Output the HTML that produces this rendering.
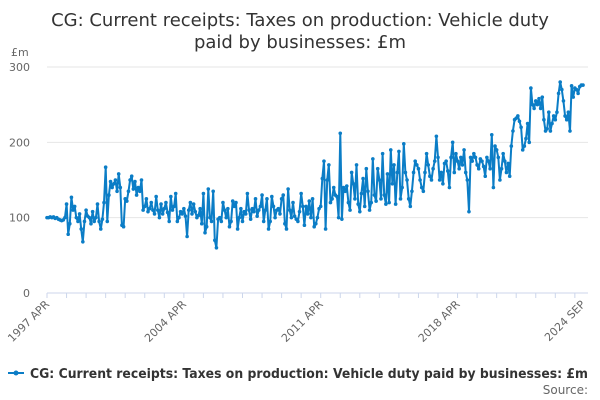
<!DOCTYPE html>
<html><head><meta charset="utf-8"><style>
body{margin:0;background:#fff;font-family:"DejaVu Sans","Liberation Sans",sans-serif}
svg{display:block;font-family:"DejaVu Sans","Liberation Sans",sans-serif}
</style></head><body>
<svg id="c" width="600" height="400">
<text x="300" y="26" text-anchor="middle" font-size="18" fill="#333">CG: Current receipts: Taxes on production: Vehicle duty</text>
<text x="300" y="48" text-anchor="middle" font-size="18" fill="#333">paid by businesses: £m</text>
<text x="11" y="56" font-size="11" fill="#666">£m</text>
<g id="grid"></g><g id="xa"></g><g id="ser"></g>
<g>
<line x1="8" y1="373" x2="24" y2="373" stroke="#0b7dc6" stroke-width="2"/>
<circle cx="16" cy="373" r="2.5" fill="#0b7dc6"/>
<text x="30" y="378" font-size="13" font-weight="bold" fill="#333" textLength="558" lengthAdjust="spacingAndGlyphs">CG: Current receipts: Taxes on production: Vehicle duty paid by businesses: £m</text>
</g>
<text x="588" y="394" text-anchor="end" font-size="12" fill="#666">Source:</text>
</svg>
<script>
const yTicks=[0,100,200,300];
const xLabels=["1997 APR","2004 APR","2011 APR","2018 APR","2024 SEP"];
const xLabelIdx=[0,84,168,252,329];
const values=[
100,100,101,100,101,99,100,98,97,
96,97,100,118,78,92,127,110,115,100,95,105,
85,68,95,110,102,100,92,108,95,100,118,95,
85,98,120,167,95,130,148,140,145,150,135,158,
140,90,88,125,122,135,150,155,138,148,130,140,
135,150,110,115,125,108,112,120,110,105,128,110,
100,118,105,112,120,107,95,128,110,115,132,95,
100,108,105,112,102,75,110,120,105,118,108,100,
103,112,92,132,80,88,138,100,95,135,70,60,
98,100,95,120,110,100,112,88,95,122,115,120,
85,100,112,95,108,105,132,110,98,112,108,125,
102,110,115,130,95,110,125,85,95,128,115,100,
110,112,105,125,130,92,85,138,110,100,120,102,
98,95,108,132,115,90,115,105,122,100,125,88,
92,100,112,115,152,175,85,150,170,120,125,140,
130,128,100,212,98,140,135,142,120,110,160,145,
125,170,118,108,132,152,115,165,135,110,120,178,
130,122,165,150,125,185,130,118,158,120,190,145,
170,118,160,188,125,140,198,160,150,125,115,135,
160,175,170,165,150,140,135,160,185,170,155,150,
165,175,208,180,150,160,145,172,175,162,140,180,
200,160,185,175,165,180,170,190,160,150,108,180,
175,185,180,170,165,178,175,168,155,180,175,165,
210,140,195,190,180,150,165,185,175,160,172,155,
195,215,230,232,235,228,220,190,195,205,225,200,
272,250,245,255,250,258,245,260,230,215,218,240,
215,225,235,230,240,265,280,270,255,235,230,240,
215,275,260,272,270,265,274,276,276];
const NS="http://www.w3.org/2000/svg";
const X0=47,X1=583,Y0=293,Y300=67;
const xs=i=>X0+(X1-X0)*i/(values.length-1);
const ys=v=>Y0-(Y0-Y300)*v/300;
function mk(t,a,p){const e=document.createElementNS(NS,t);for(const k in a)e.setAttribute(k,a[k]);p.appendChild(e);return e;}
const grid=document.getElementById('grid');
yTicks.forEach(v=>{
 const l=mk('line',{x1:X0,x2:588,y1:ys(v),y2:ys(v),stroke:v===0?'#ccd6eb':'#e6e6e6','stroke-width':1},grid);
 
 
 const t=mk('text',{x:30,y:ys(v)+4,'text-anchor':'end','font-size':11,fill:'#666'},grid);
 t.textContent=v;
 
 
});
const xa=document.getElementById('xa');
for(let i=0;i<values.length;i+=12){
 const tk=mk('line',{x1:xs(i),x2:xs(i),y1:Y0,y2:Y0+5,stroke:'#ccd6eb'},xa);
 
 
}
xLabels.forEach((s,k)=>{
 const x=xs(xLabelIdx[k]);
 const t=mk('text',{x:x+3,y:Y0+12,'text-anchor':'end','font-size':11,fill:'#666',transform:`rotate(-45 ${x+3} ${Y0+12})`},xa);
 t.textContent=s;
 
 
});
const ser=document.getElementById('ser');
const p=mk('path',{d:values.map((v,i)=>(i?'L':'M')+xs(i).toFixed(1)+' '+ys(v).toFixed(1)).join(''),fill:'none',stroke:'#0b7dc6','stroke-width':2,'stroke-linejoin':'round'},ser);


values.forEach((v,i)=>{
 const c=mk('circle',{cx:xs(i),cy:ys(v),r:1.8,fill:'#0b7dc6'},ser);
 
 
});
</script>
</body></html>
